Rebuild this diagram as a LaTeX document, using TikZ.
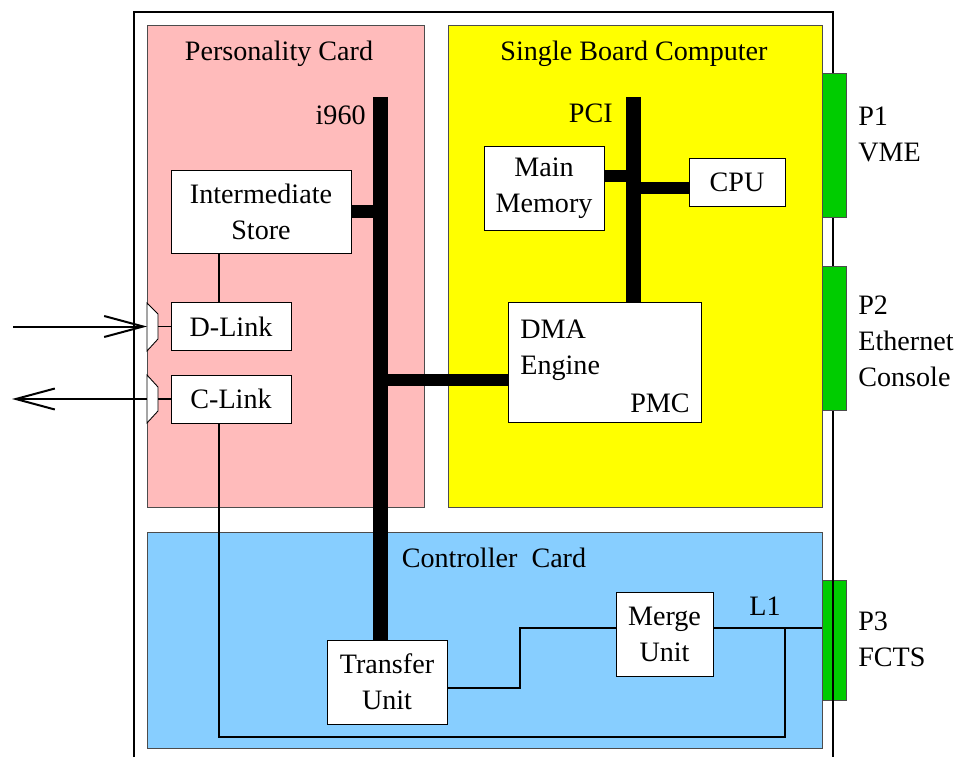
\documentclass[tikz,border=0pt]{standalone}
\usepackage{fontspec}
\setmainfont{Liberation Serif}
\usepackage{xcolor}
\usetikzlibrary{arrows.meta}

\definecolor{personality}{RGB}{255,187,187}
\definecolor{sbc}{RGB}{255,255,0}
\definecolor{controller}{RGB}{135,206,255}
\definecolor{connector}{RGB}{0,204,0}

\tikzset{
  card/.style={draw=black!70, line width=0.4pt},
  unit/.style={draw, fill=white, line width=0.5pt, inner sep=0pt, align=center},
  bus/.style={line width=0.3cm},
  stub/.style={line width=0.25cm},
  wire/.style={line width=0.6pt},
  port/.style={draw, fill=white, line width=0.5pt},
  ext/.style={line width=0.04cm, -{Straight Barb[length=0.78cm,width=0.42cm]}},
  txt/.style={inner sep=0pt}
}

\begin{document}
\begin{tikzpicture}[x=0.02cm, y=-0.02cm, font=\fontsize{16}{20.5}\selectfont]
    \useasboundingbox (0,0) rectangle (956,757);

    % the three cards
    \filldraw[fill=personality, card] (147,25) rectangle (424,507);
    \filldraw[fill=sbc, card] (448,25) rectangle (822,507);
    \filldraw[fill=controller, card] (147,532) rectangle (822,748);

    % backplane connectors, P3 lies under the frame
    \filldraw[fill=connector, card] (822,580) rectangle (846,700);
    \draw[line width=0.04cm] (134,757) -- (134,12) -- (833,12) -- (833,757);
    \filldraw[fill=connector, card] (822,73) rectangle (846,217);
    \filldraw[fill=connector, card] (822,266) rectangle (846,410);

    \node[txt, anchor=base] (pctitle) at (279,61) {Personality Card};
    \node[txt, anchor=base] (sbctitle) at (634,61) {Single Board Computer};
    \node[txt, anchor=base] (cctitle) at (494,567) {Controller\ \ Card};

    \node[txt, anchor=west, align=left] (p1) at (858,134) {P1\\VME};
    \node[txt, anchor=west, align=left] (p2) at (858,341) {P2\\Ethernet\\Console};
    \node[txt, anchor=west, align=left] (p3) at (858,639) {P3\\FCTS};

    % units
    \node[unit, minimum width=3.6cm, minimum height=1.66cm] (store) at (261,211.5) {Intermediate\\Store};
    \node[unit, minimum width=2.4cm, minimum height=0.96cm] (dlink) at (231,326.5) {D-Link};
    \node[unit, minimum width=2.4cm, minimum height=0.96cm] (clink) at (231,399) {C-Link};
    \node[unit, minimum width=2.4cm, minimum height=1.68cm] (mem) at (544,188) {Main\\Memory};
    \node[unit, minimum width=1.92cm, minimum height=0.96cm] (cpu) at (737,182) {CPU};
    \node[unit, minimum width=3.86cm, minimum height=2.4cm] (dma) at (604.5,362) {};
    \node[unit, minimum width=2.4cm, minimum height=1.68cm] (xfer) at (387,682) {Transfer\\Unit};
    \node[unit, minimum width=1.94cm, minimum height=1.68cm] (merge) at (664.5,634) {Merge\\Unit};

    \node[txt, anchor=north west, align=left] (dmaname) at (520,320) {DMA\\Engine};
    \node[txt, anchor=base east] (pmc) at (690,412) {PMC};

    % buses
    \coordinate (i960top) at (380.5,97);
    \coordinate (pcitop) at (633.5,97);
    \draw[bus] (i960top) -- (i960top |- xfer.north);
    \draw[bus] (pcitop) -- (pcitop |- dma.north);
    \node[txt, anchor=base east] (i960) at (366,124) {i960};
    \node[txt, anchor=base east] (pci) at (613,122) {PCI};

    \draw[stub] (store.east) -- (store.east -| i960top);
    \coordinate (memtap) at ([yshift=0.24cm]mem.east);
    \draw[stub] (memtap) -- (memtap -| pcitop);
    \coordinate (cputap) at ([yshift=-0.12cm]cpu.west);
    \draw[stub] (cputap) -- (cputap -| pcitop);
    \coordinate (dmatap) at ([yshift=-0.36cm]dma.west);
    \draw[stub] (dmatap) -- (dmatap -| i960top);

    % link ports on the card edge
    \filldraw[port] (147,303) -- (158,314) -- (158,339) -- (147,351) -- cycle;
    \filldraw[port] (147,375) -- (158,387) -- (158,411) -- (147,423) -- cycle;
    \coordinate (dport) at (158,326.5);
    \coordinate (dportin) at (147,326.5);
    \coordinate (cport) at (158,399);
    \coordinate (cportin) at (147,399);

    % thin wires
    \coordinate (linkx) at (219,0);
    \coordinate (loop) at (785,737);
    \coordinate (l1) at (822,628);
    \coordinate (bend) at (520,628);
    \coordinate (xferout) at ([yshift=-0.12cm]xfer.east);
    \draw[wire] (store.south -| linkx) -- (dlink.north -| linkx);
    \draw[wire] (dlink.west) -- (dport);
    \draw[wire] (clink.west) -- (cport);
    \draw[wire] (clink.south -| linkx) |- (loop) -- (loop |- l1);
    \draw[wire] (xferout) -| (bend) -- (merge.west |- bend);
    \draw[wire] (merge.east |- l1) -- (l1);
    \node[txt, anchor=base] (l1name) at (765,615) {L1};

    % data in, control out
    \coordinate (dsrc) at (13,326.5);
    \coordinate (cdst) at (12,399);
    \draw[ext] (dsrc) -- (dportin);
    \draw[ext] (cportin) -- (cdst);
\end{tikzpicture}
\end{document}
